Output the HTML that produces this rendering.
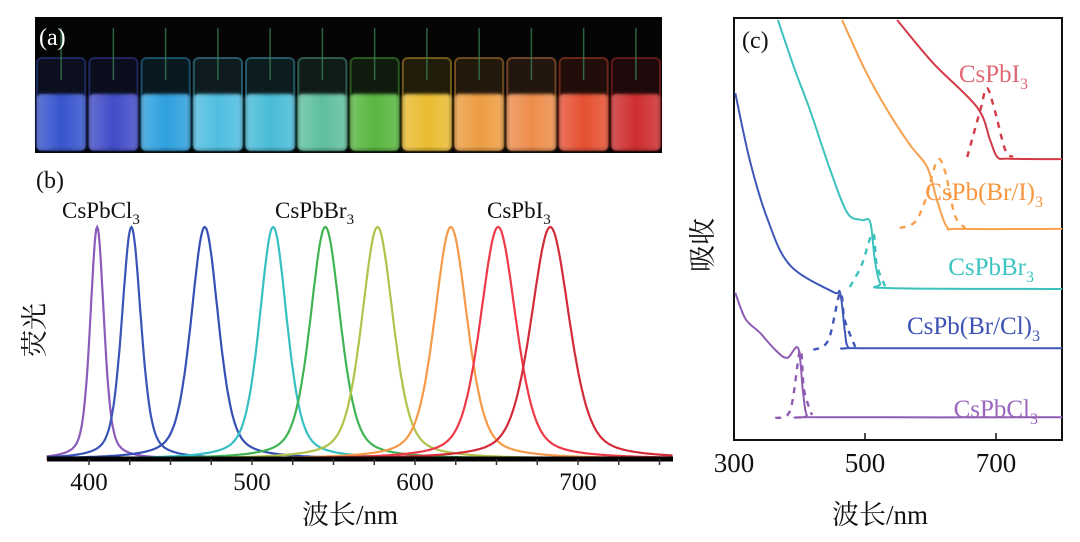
<!DOCTYPE html>
<html><head><meta charset="utf-8">
<style>
html,body{margin:0;padding:0;background:#fff;}
svg{display:block;font-family:"Liberation Serif","Noto Serif CJK SC",serif;}
</style></head>
<body>
<svg id="fig" width="1080" height="542" viewBox="0 0 1080 542" xmlns="http://www.w3.org/2000/svg">
  <defs>
    <linearGradient id="glass" x1="0" y1="0" x2="1" y2="0">
      <stop offset="0" stop-color="#fff" stop-opacity="0.2"/>
      <stop offset="0.5" stop-color="#fff" stop-opacity="0"/>
      <stop offset="1" stop-color="#fff" stop-opacity="0.15"/>
    </linearGradient>
    <filter id="blur1"><feGaussianBlur stdDeviation="1.5"/></filter>
  </defs>
  <g id="panelA">
    <rect x="35" y="17" width="627" height="136" fill="#050505"/>
  </g>
  <g id="panelB">
    <text x="36" y="188" font-size="24" fill="#111">(b)</text>
    <text x="62" y="218" font-size="23" fill="#111">CsPbCl<tspan font-size="15" dy="6">3</tspan></text>
    <text x="275" y="218" font-size="23" fill="#111">CsPbBr<tspan font-size="15" dy="6">3</tspan></text>
    <text x="487" y="218" font-size="23" fill="#111">CsPbI<tspan font-size="15" dy="6">3</tspan></text>
    <text transform="translate(44,330) rotate(-90)" text-anchor="middle" font-size="27" fill="#111">荧光</text>
    <text x="350" y="524" text-anchor="middle" font-size="27" fill="#111">波长/nm</text>
  </g>
  <g id="panelC">
    <rect x="734" y="18" width="328" height="422" fill="none" stroke="#111" stroke-width="2"/>
    <text x="742" y="48" font-size="24" fill="#111">(c)</text>
    <text transform="translate(712,245) rotate(-90)" text-anchor="middle" font-size="27" fill="#111">吸收</text>
    <text x="880" y="524" text-anchor="middle" font-size="27" fill="#111">波长/nm</text>
  </g>
</svg>
<script>
const NS='http://www.w3.org/2000/svg';
// ---- Panel (a) vial colors
const vialColors=['#3a5ad8','#4450d0','#30a8e8','#52c6ea','#4cc4e2','#62c8a8','#5cc040','#f4c434','#f8a444','#f89450','#f05232','#d8302e'];
// ---- Panel (b) data
const plNames=['cl','bcl1','bcl2','br1','br2','bi1','bi2','i1','i2'];
const plPeaks=[405,426,471,513,545,577,622,651,683];
const plHalfWidths=[5,7,10,10,11,11.5,12,13,14];
const plIntensity=[1,1,1,1,1,1,1,1,1];
const plColors=['#8b5cba','#3a55b8','#3550b5','#36c0c2','#40b455','#b2c24a','#f59a48','#ee3a48','#d22c3a'];
const bTicks=[400,500,600,700];
// ---- Panel (c) data [nm, absorbance]
const absI=[[549,99.3],[604,89.1],[671,78.7],[691,70.9],[702,66.9],[720,66.5],[801,66.4]];
const absIDash=[[656,66.9],[676,78],[686,83.2],[698,78],[714,68.6],[726,66.9]];
const absBrI=[[465,99.3],[500,87.5],[534,78],[569,69.7],[595,64.5],[610,56.7],[625,50.4],[645,49.9],[801,49.9]];
const absBrIDash=[[553,50.1],[576,51.5],[592,56.7],[610,66],[622,63.6],[637,53.2],[653,50.1]];
const absBr=[[367,99.3],[393,87.5],[416,78],[447,63.8],[473,53.7],[495,52],[508,51.5],[515,42.6],[523,37.1],[538,35.9],[801,35.7]];
const absBrDash=[[477,36.2],[495,41.4],[512,48.9],[518,41.4],[531,36.2]];
const absBrCl=[[302,82],[324,66.2],[350,52.7],[385,41.4],[451,35],[462,34.8],[469,26],[474,22],[492,21.7],[801,21.7]];
const absBrClDash=[[421,21.3],[444,23.6],[462,34.8],[469,28.4],[485,22]];
const absCl=[[302,34.8],[317,28.8],[335,26],[340,25.3],[363,21.3],[381,19.4],[398,21.7],[405,11.8],[411,5.9],[424,5.4],[801,5.4]];
const absClDash=[[363,5.2],[386,7.1],[401,21.3],[407,11.8],[419,5.9]];
const cTicks=[300,500,700];
const absLabels=['CsPbI','CsPb(Br/I)','CsPbBr','CsPb(Br/Cl)','CsPbCl'];

const svg=document.getElementById('fig');
function mk(tag,attrs,parent){const e=document.createElementNS(NS,tag);for(const k in attrs)e.setAttribute(k,attrs[k]);(parent||svg).appendChild(e);return e;}

// Panel a vials
const pa=document.getElementById('panelA');
const vw=627/vialColors.length;
vialColors.forEach((c,i)=>{
  const x0=35+i*vw+2;
  const v=mk('rect',{x:x0,y:58,width:vw-4,height:92,rx:5,fill:c,'fill-opacity':0.12,stroke:c,'stroke-opacity':0.4,'stroke-width':2},pa);
  
  
  const l=mk('rect',{x:x0,y:94,width:vw-4,height:56,rx:4,fill:c,'fill-opacity':0.95,filter:'url(#blur1)'},pa);
  
  
  mk('rect',{x:x0,y:94,width:vw-4,height:56,rx:4,fill:'url(#glass)'},pa);
  mk('line',{x1:x0+vw/2-2,y1:28,x2:x0+vw/2-2,y2:80,stroke:'#3a8a5a','stroke-opacity':0.7,'stroke-width':1.5},pa);
});
const al=mk('text',{x:39,y:45,'font-size':24,fill:'#fff'},pa);
al.textContent='(a)';



// Panel b
const pb=document.getElementById('panelB');
const bx=nm=>89+(nm-400)*1.63;
const by=v=>459-v*232;
plPeaks.forEach((p,i)=>{
  let d='';
  for(let nm=374;nm<=758;nm+=0.5){
    const t=(nm-p)/plHalfWidths[i];
    const lor=1/(1+t*t), gau=Math.exp(-0.693*t*t);
    const v=plIntensity[i]*(0.45*lor+0.55*gau);
    d+=(d?'L':'M')+bx(nm).toFixed(1)+','+by(v).toFixed(1);
  }
  const pth=mk('path',{d:d,fill:'none',stroke:plColors[i],'stroke-width':2.2},pb);
  
  
});
const bAxis=mk('line',{x1:47,y1:459,x2:673,y2:459,stroke:'#000','stroke-width':5},pb);


for(let nm=400;nm<=750;nm+=25){mk('line',{x1:bx(nm),y1:459,x2:bx(nm),y2:465,stroke:'#333','stroke-width':1.5},pb);}
bTicks.forEach(t=>{
  const tx=mk('text',{x:bx(t),y:490,'text-anchor':'middle','font-size':25,fill:'#111'},pb);
  tx.textContent=t;
  
  
});

// Panel c
const pc=document.getElementById('panelC');
const cx=nm=>734+(nm-300)*0.655;
const cy=v=>440-v*4.23;
function smooth(pts){
  const P=pts.map(p=>[cx(p[0]),cy(p[1])]);
  let d='M'+P[0][0].toFixed(1)+','+P[0][1].toFixed(1);
  for(let i=0;i<P.length-1;i++){
    const p0=P[i-1]||P[i],p1=P[i],p2=P[i+1],p3=P[i+2]||p2;
    const k=1/6;
    const c1=[p1[0]+(p2[0]-p0[0])*k,p1[1]+(p2[1]-p0[1])*k];
    const c2=[p2[0]-(p3[0]-p1[0])*k,p2[1]-(p3[1]-p1[1])*k];
    d+='C'+c1[0].toFixed(1)+','+c1[1].toFixed(1)+' '+c2[0].toFixed(1)+','+c2[1].toFixed(1)+' '+p2[0].toFixed(1)+','+p2[1].toFixed(1);
  }
  return d;
}
function line(pts,col,dash,name){
  const a={d:smooth(pts),fill:'none',stroke:col,'stroke-width':dash?2.4:2,'stroke-linejoin':'round'};
  if(dash)a['stroke-dasharray']='6,6';
  const e=mk('path',a,pc);
  
  
}
const cCols=['#d23a48','#f7a04e','#3cc2be','#3f58b8','#8f5cb4'];
const cLabCols=['#e06872','#f7963e','#3cc4c0','#3c52b4','#9a66be'];
const series=[[absI,absIDash],[absBrI,absBrIDash],[absBr,absBrDash],[absBrCl,absBrClDash],[absCl,absClDash]];
const keys=['cspbi3','cspbbri3','cspbbr3','cspbbrcl3','cspbcl3'];
series.forEach((s,i)=>{line(s[0],cCols[i],false,'abs-curve-'+keys[i]);line(s[1],cCols[i],true,'pl-dashed-'+keys[i]);});
const labPos=[[1040,82],[1055,200],[1046,275],[1052,334],[1050,417]];
absLabels.forEach((t,i)=>{
  const tx=mk('text',{x:labPos[i][0]-12,y:labPos[i][1],'text-anchor':'end','font-size':25,fill:cLabCols[i]},pc);
  tx.textContent=t;
  const s=mk('tspan',{'font-size':16,dy:7},tx);s.textContent='3';
  
  
});
cTicks.forEach(t=>{
  mk('line',{x1:cx(t),y1:440,x2:cx(t),y2:433,stroke:'#111','stroke-width':1.5},pc);
  const tx=mk('text',{x:cx(t),y:472,'text-anchor':'middle','font-size':27,fill:'#111'},pc);
  tx.textContent=t;
  
  
});
</script>
</body></html>
